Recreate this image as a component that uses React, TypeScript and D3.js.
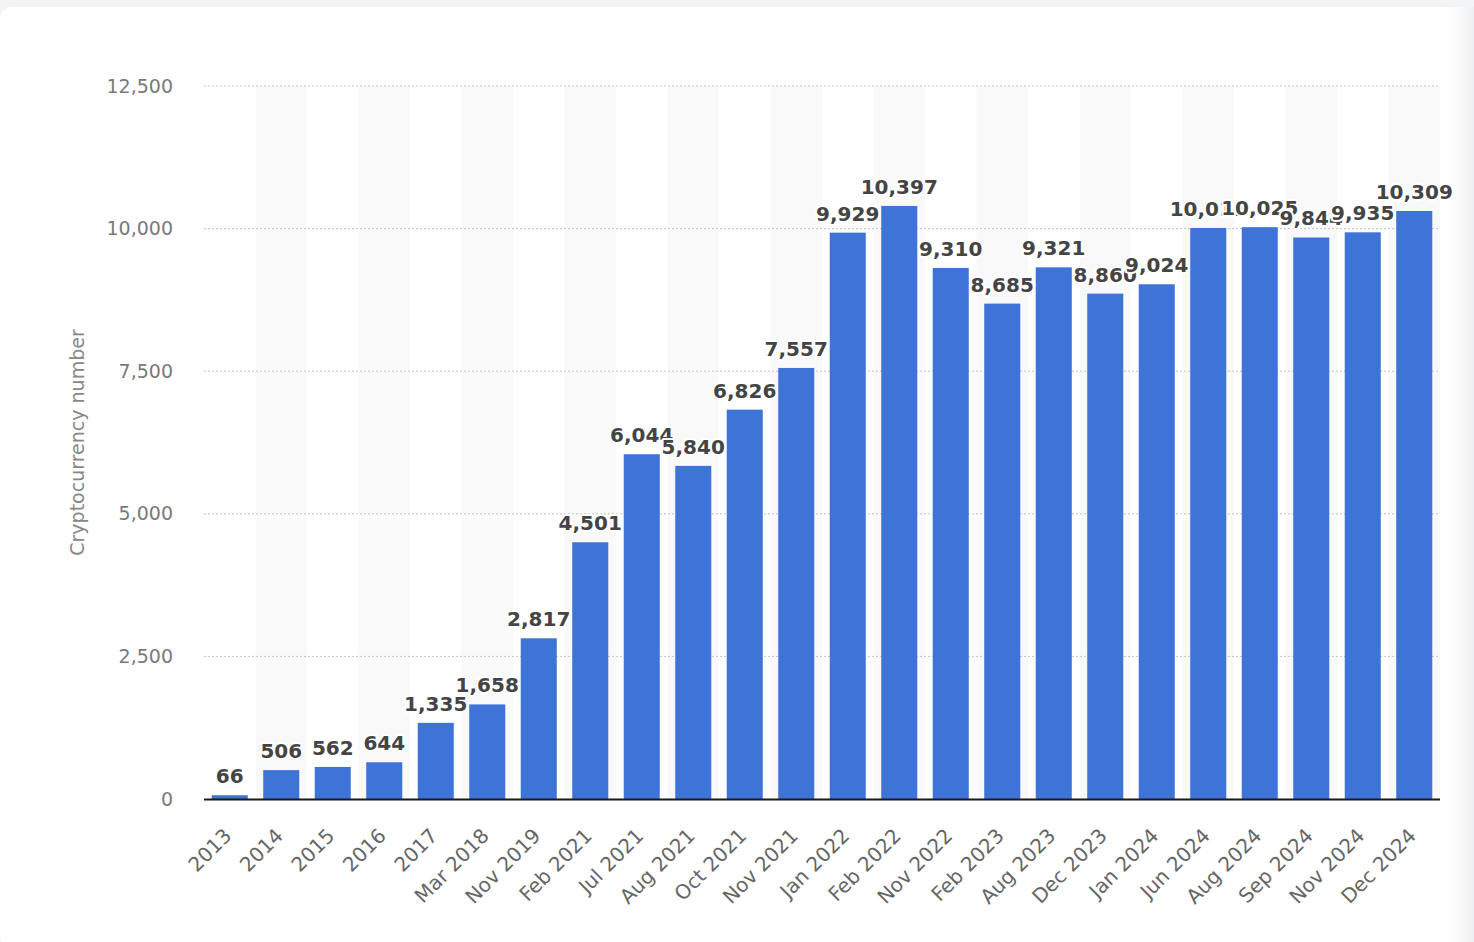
import React, { useEffect } from 'react';
import * as d3 from 'd3';

const categories = [
  '2013', '2014', '2015', '2016', '2017', 'Mar 2018', 'Nov 2019', 'Feb 2021',
  'Jul 2021', 'Aug 2021', 'Oct 2021', 'Nov 2021', 'Jan 2022', 'Feb 2022',
  'Nov 2022', 'Feb 2023', 'Aug 2023', 'Dec 2023', 'Jan 2024', 'Jun 2024',
  'Aug 2024', 'Sep 2024', 'Nov 2024', 'Dec 2024',
];
const values = [
  66, 506, 562, 644, 1335, 1658, 2817, 4501,
  6044, 5840, 6826, 7557, 9929, 10397,
  9310, 8685, 9321, 8860, 9024, 10011,
  10025, 9844, 9935, 10309,
];
const yTicks = [0, 2500, 5000, 7500, 10000, 12500];
const yTitle = 'Cryptocurrency number';

const W = 1474;
const H = 942;
const left = 204;
const right = 1440;
const top = 86;
const bottom = 799;

export default function App() {
  useEffect(() => {
    document.body.style.margin = '0';
  }, []);

  const x = d3.scaleBand<string>()
    .domain(categories)
    .range([left, right])
    .paddingInner(0.3)
    .paddingOuter(0.15);
  const y = d3.scaleLinear().domain([0, 12500]).range([bottom, top]);
  const fmt = d3.format(',');
  const step = x.step();

  return (
    <div style={{ position: 'absolute', left: 0, top: 0 }}>
      <svg width={W} height={H} style={{ display: 'block' }}>
        <defs>
          <linearGradient id="edge" x1="0" x2="1" y1="0" y2="0">
            <stop offset="0" stopColor="#ffffff" stopOpacity={0} />
            <stop offset="1" stopColor="#eeeff2" stopOpacity={1} />
          </linearGradient>
        </defs>
        <rect x={0} y={0} width={W} height={H} fill="#f3f4f6" />
        <rect x={0} y={7} width={W + 20} height={H} rx={12} fill="#ffffff" />
        <rect x={1440} y={7} width={34} height={H} fill="url(#edge)" />

        {/* alternating column bands */}
        {categories.map((c, i) =>
          i % 2 === 1 ? (
            <rect
              key={'b' + c}
              x={(x(c) as number) + x.bandwidth() / 2 - step / 2}
              y={top}
              width={step}
              height={bottom - top}
              fill="#f9f9f9"
            />
          ) : null
        )}

        {/* grid + y ticks */}
        {yTicks.map((t) => (
          <g key={'t' + t}>
            {t > 0 && (
              <line
                x1={left}
                x2={right - 2}
                y1={y(t)}
                y2={y(t)}
                stroke="#c4c4c4"
                strokeWidth={1}
                strokeDasharray="2,2"
              />
            )}
            <text
              x={173}
              y={y(t)}
              dy="0.35em"
              textAnchor="end"
              fontFamily="DejaVu Sans"
              fontSize={19}
              fill="#7a7a7a"
            >
              {fmt(t)}
            </text>
          </g>
        ))}

        <text
          transform={`translate(84,${(top + bottom) / 2}) rotate(-90)`}
          textAnchor="middle"
          fontFamily="DejaVu Sans"
          fontSize={19}
          fill="#888"
        >
          {yTitle}
        </text>

        {/* bars */}
        {categories.map((c, i) => (
          <rect
            key={'r' + c}
            x={x(c)}
            y={y(values[i])}
            width={x.bandwidth()}
            height={bottom - y(values[i])}
            fill="#3e73d7"
          />
        ))}

        <line x1={left} x2={right} y1={bottom + 0.5} y2={bottom + 0.5} stroke="#1a1a1a" strokeWidth={2} />

        {/* value labels */}
        {categories.map((c, i) => (
          <text
            key={'v' + c}
            x={(x(c) as number) + x.bandwidth() / 2}
            y={y(values[i]) - 12}
            textAnchor="middle"
            fontFamily="DejaVu Sans"
            fontWeight="bold"
            fontSize={20}
            fill="#444"
            stroke="#fff"
            strokeWidth={4}
            strokeLinejoin="round"
            style={{ paintOrder: 'stroke' }}
          >
            {fmt(values[i])}
          </text>
        ))}

        {/* x labels */}
        {categories.map((c) => (
          <text
            key={'x' + c}
            transform={`translate(${(x(c) as number) + x.bandwidth() / 2 + 3},${bottom + 38}) rotate(-45)`}
            textAnchor="end"
            fontFamily="DejaVu Sans"
            fontSize={20}
            fill="#666"
          >
            {c}
          </text>
        ))}
      </svg>
    </div>
  );
}
